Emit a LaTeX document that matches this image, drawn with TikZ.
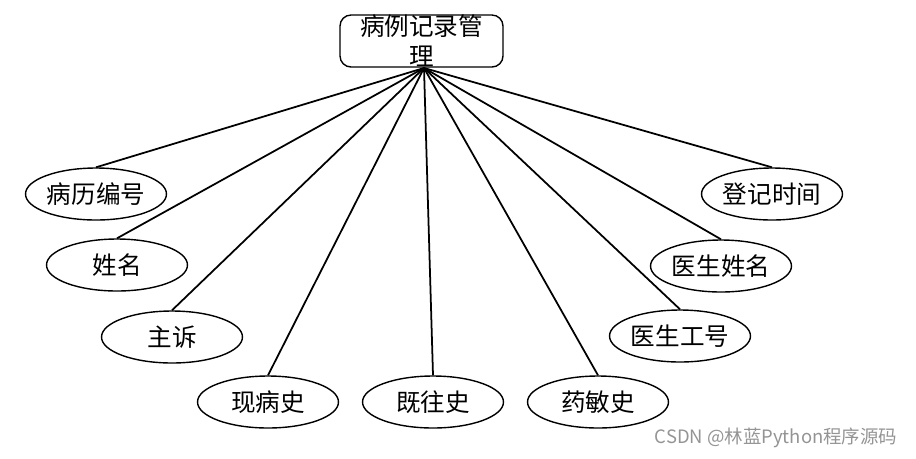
\documentclass[tikz,border=0pt]{standalone}
\usepackage{fontspec}
\setmainfont{Noto Sans CJK SC}
\usetikzlibrary{shapes.geometric}
\tikzset{
  attr/.style={draw,ellipse,line width=0.8pt,minimum width=2.82cm,minimum height=1.04cm,
    inner sep=0pt,font=\fontsize{14}{16}\selectfont},
  entity/.style={draw,rounded corners=0.22cm,line width=0.8pt,minimum width=3.26cm,
    minimum height=1.04cm,inner sep=0pt}
}
\begin{document}
\begin{tikzpicture}[x=0.02cm,y=-0.02cm]
      \useasboundingbox (0,0) rectangle (916,458);
      \draw
        (421.5,41) node[entity] (0){}
        (96,194) node[attr] (1){病历编号}
        (117,265) node[attr] (2){姓名}
        (172,337) node[attr] (3){主诉}
        (268,402) node[attr] (4){现病史}
        (433,402) node[attr] (5){既往史}
        (598,402) node[attr] (6){药敏史}
        (680,336) node[attr] (7){医生工号}
        (721,266) node[attr] (8){医生姓名}
        (772,194) node[attr] (9){登记时间};
      \node[font=\fontsize{14}{17}\selectfont,align=center] (title) at (0) {病例记录管\\理};
      \coordinate (hub) at (424,68);
      \begin{scope}[line width=1pt]
        \draw (hub) to (1.north);
        \draw (hub) to (2.north);
        \draw (hub) to (3.north);
        \draw (hub) to (4.north);
        \draw (hub) to (5.north);
        \draw (hub) to (6.north);
        \draw (hub) to (7.north);
        \draw (hub) to (8.north);
        \draw (hub) to (9.north);
      \end{scope}
      \node[text=black!42,font=\fontsize{10.5}{12}\selectfont] (mark) at (776,438) {CSDN @林蓝Python程序源码};
    \end{tikzpicture}
\end{document}
